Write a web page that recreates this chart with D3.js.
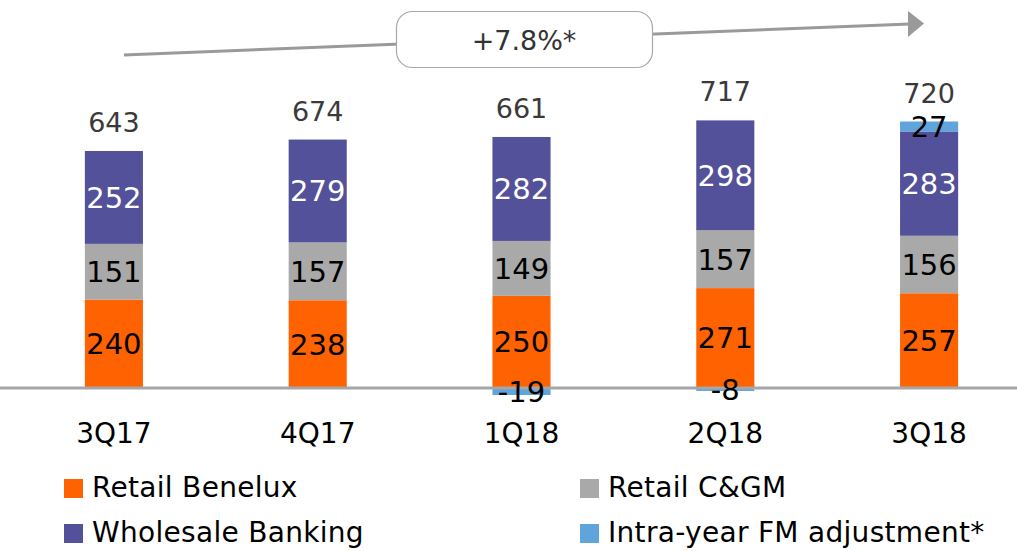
<!DOCTYPE html>
<html>
<head>
<meta charset="utf-8">
<script src="https://cdn.jsdelivr.net/npm/d3@7"></script>
<style>
  html, body { margin: 0; padding: 0; background: #fff; }
  svg { display: block; font-family: "DejaVu Sans", sans-serif; }
</style>
</head>
<body>
<svg id="chart" width="1017" height="551"></svg>
<script>
const categories = ["3Q17", "4Q17", "1Q18", "2Q18", "3Q18"];
const retailBenelux = [240, 238, 250, 271, 257];
const retailCGM = [151, 157, 149, 157, 156];
const wholesaleBanking = [252, 279, 282, 298, 283];
const fmAdjustment = [0, 0, -19, -8, 27];
const totals = [643, 674, 661, 717, 720];
const growthLabel = "+7.8%*";

const seriesNames = ["Retail Benelux", "Retail C&GM", "Wholesale Banking", "Intra-year FM adjustment*"];
const seriesKeys = ["benelux", "cgm", "wholesale", "fm"];
const seriesColors = ["#FF6200", "#A9A9A9", "#525199", "#5FA5DB"];
const labelColors = ["#000", "#000", "#fff", "#000"];

const rows = categories.map((c, i) => ({
  cat: c,
  benelux: retailBenelux[i],
  cgm: retailCGM[i],
  wholesale: wholesaleBanking[i],
  fm: fmAdjustment[i],
  total: totals[i]
}));

const svg = d3.select("#chart");
const baseY = 388;

const x = d3.scaleBand()
  .domain(categories)
  .range([12, 1031])
  .paddingInner(0.715)
  .paddingOuter(0.3575);

const y = d3.scaleLinear()
  .domain([0, 700])
  .range([baseY, baseY - 700 * 0.3686]);

const stack = d3.stack().keys(seriesKeys).offset(d3.stackOffsetDiverging);
const stacked = stack(rows);

// bars
stacked.forEach((layer, li) => {
  const g = svg.append("g");
  layer.forEach((seg, i) => {
    const v = rows[i][seriesKeys[li]];
    if (v === 0) return;
    const y0 = y(seg[0]), y1 = y(seg[1]);
    const top = Math.min(y0, y1), h = Math.abs(y1 - y0);
    g.append("rect")
      .attr("x", x(rows[i].cat))
      .attr("y", top)
      .attr("width", x.bandwidth())
      .attr("height", h)
      .attr("fill", seriesColors[li]);
  });
});

// baseline
svg.append("line")
  .attr("x1", 0).attr("x2", 1017)
  .attr("y1", y(0)).attr("y2", y(0))
  .attr("stroke", "#A6A6A6").attr("stroke-width", 3);

// segment labels
stacked.forEach((layer, li) => {
  layer.forEach((seg, i) => {
    const v = rows[i][seriesKeys[li]];
    if (v === 0) return;
    const cy = (y(seg[0]) + y(seg[1])) / 2;
    svg.append("text")
      .attr("x", x(rows[i].cat) + x.bandwidth() / 2)
      .attr("y", cy + 29 * 0.36)
      .attr("text-anchor", "middle")
      .attr("font-size", 29)
      .attr("fill", labelColors[li])
      .text(v);
  });
});

// totals
rows.forEach((r, i) => {
  const pos = r.benelux + r.cgm + r.wholesale + Math.max(0, r.fm);
  svg.append("text")
    .attr("x", x(r.cat) + x.bandwidth() / 2)
    .attr("y", y(pos) - 19)
    .attr("text-anchor", "middle")
    .attr("font-size", 27)
    .attr("fill", "#3a3a3a")
    .text(r.total);
});

// x axis labels
const xAxis = d3.axisBottom(x).tickSize(0).tickPadding(0);
const ax = svg.append("g")
  .attr("transform", `translate(0, ${y(0)})`)
  .call(xAxis);
ax.select(".domain").remove();
ax.selectAll("text")
  .attr("font-family", "DejaVu Sans, sans-serif")
  .attr("font-size", 28)
  .attr("fill", "#000")
  .attr("dy", null)
  .attr("y", 55);

// growth arrow
svg.append("line")
  .attr("x1", 124).attr("y1", 55)
  .attr("x2", 910).attr("y2", 24)
  .attr("stroke", "#9A9A9A").attr("stroke-width", 3);
svg.append("path")
  .attr("d", "M908,11 L924,23.5 L908,37 Z")
  .attr("fill", "#9A9A9A");
svg.append("rect")
  .attr("x", 396.5).attr("y", 11.5)
  .attr("width", 256).attr("height", 56)
  .attr("rx", 16).attr("ry", 16)
  .attr("fill", "#fff")
  .attr("stroke", "#A8A8A8").attr("stroke-width", 1.2);
svg.append("text")
  .attr("x", 524).attr("y", 50)
  .attr("text-anchor", "middle")
  .attr("font-size", 27)
  .attr("fill", "#333")
  .text(growthLabel);

// legend
const legendPos = [[64, 497], [580, 497], [64, 542], [580, 542]];
seriesNames.forEach((name, i) => {
  const [lx, ly] = legendPos[i];
  svg.append("rect")
    .attr("x", lx).attr("y", ly - 18)
    .attr("width", 19).attr("height", 19)
    .attr("fill", seriesColors[i]);
  svg.append("text")
    .attr("x", lx + 28).attr("y", ly)
    .attr("font-size", 28)
    .attr("letter-spacing", 0.3)
    .attr("fill", "#000")
    .text(name);
});
</script>
</body>
</html>
